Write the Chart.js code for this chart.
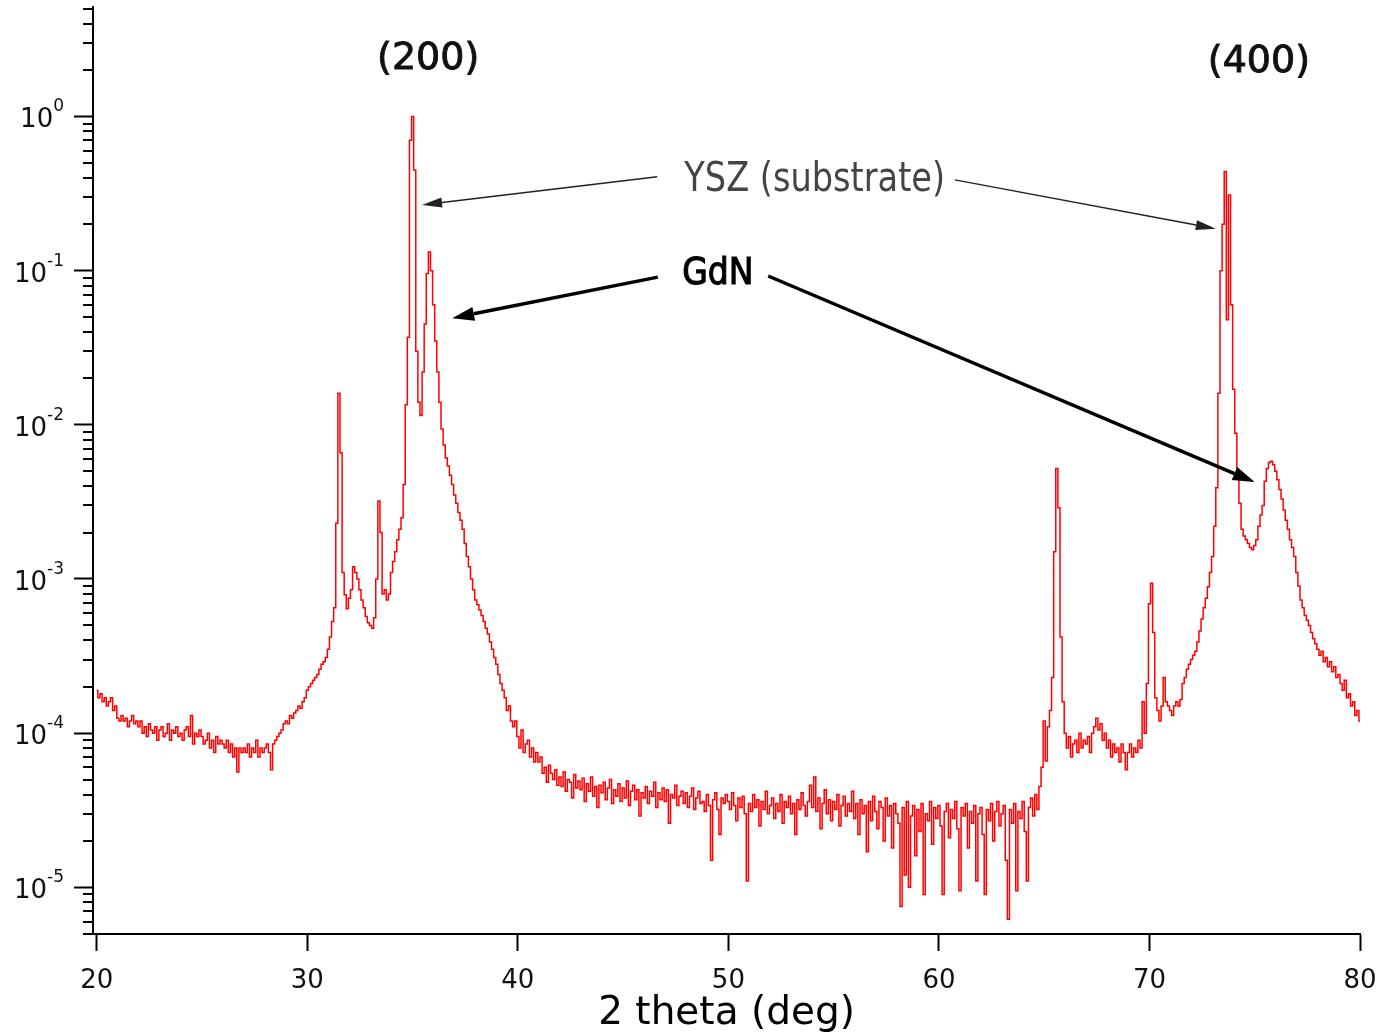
<!DOCTYPE html>
<html lang="en">

<head>
    <meta charset="UTF-8" />
    <title>XRD - GdN on YSZ</title>
    <script src="https://cdn.jsdelivr.net/npm/chart.js"></script>
    <style>
        html, body { margin: 0; padding: 0; background: #fff; }
        #wrap { width: 1383px; height: 1033px; position: relative; }
    </style>
</head>

<body>
    <div id="wrap"><canvas id="grafica"></canvas></div>

    <script>
        // scan: 20 to 80 deg, 0.1 deg step, one array per 10 deg
        const scanStart = 20.0;
        const scanStep = 0.1;

        const seg20 = [
            1.9e-4, 1.7e-4, 1.8e-4, 1.6e-4, 1.7e-4, 1.5e-4, 1.6e-4, 1.7e-4, 1.4e-4, 1.5e-4,
            1.25e-4, 1.2e-4, 1.3e-4, 1.2e-4, 1.25e-4, 1.1e-4, 1.2e-4, 1.3e-4, 1.15e-4, 1.2e-4,
            1.1e-4, 1.2e-4, 1.0e-4, 1.1e-4, 9.5e-5, 1.15e-4, 1.05e-4, 1.0e-4, 1.1e-4, 9e-5,
            1.05e-4, 1.1e-4, 9.5e-5, 1.0e-4, 1.15e-4, 9e-5, 1.05e-4, 1.0e-4, 1.1e-4, 9.5e-5,
            1.0e-4, 9e-5, 1.05e-4, 1.1e-4, 9.5e-5, 1.3e-4, 8.5e-5, 1.0e-4, 9.5e-5, 1.05e-4,
            9.5e-5, 8.5e-5, 9e-5, 1.0e-4, 8e-5, 9e-5, 7.5e-5, 9.5e-5, 8.5e-5, 9e-5,
            8.5e-5, 8e-5, 9e-5, 7.5e-5, 8.5e-5, 7e-5, 8e-5, 5.6e-5, 8e-5, 7.5e-5,
            8e-5, 7.5e-5, 8.5e-5, 7e-5, 8e-5, 7.5e-5, 9e-5, 7e-5, 8e-5, 7.5e-5,
            8e-5, 8.5e-5, 7.5e-5, 5.8e-5, 8.5e-5, 9e-5, 9.5e-5, 1.0e-4, 1.05e-4, 1.15e-4,
            1.2e-4, 1.15e-4, 1.3e-4, 1.25e-4, 1.35e-4, 1.4e-4, 1.5e-4, 1.45e-4, 1.6e-4, 1.7e-4
        ];
        const seg30 = [
            1.9e-4, 2.0e-4, 2.1e-4, 2.2e-4, 2.3e-4, 2.4e-4, 2.6e-4, 2.8e-4, 2.9e-4, 3.1e-4,
            3.5e-4, 4.2e-4, 5.3e-4, 6.5e-4, 2.3e-3, 1.6e-2, 6.6e-3, 1.1e-3, 7.9e-4, 6.4e-4,
            7.5e-4, 8.5e-4, 1.2e-3, 1.1e-3, 1.0e-3, 8.5e-4, 7.3e-4, 6.5e-4, 5.7e-4, 5.2e-4,
            5.0e-4, 4.8e-4, 5.6e-4, 1.0e-3, 3.2e-3, 2.0e-3, 8.0e-4, 8.5e-4, 7.3e-4, 8.0e-4,
            1.1e-3, 1.3e-3, 1.5e-3, 1.8e-3, 2.1e-3, 2.5e-3, 4.1e-3, 1.35e-2, 3.7e-2, 7.0e-1,
            1.0, 4.5e-1, 3.0e-2, 1.4e-2, 1.15e-2, 2.2e-2, 4.5e-2, 9.6e-2, 1.32e-1, 1.0e-1,
            6.0e-2, 3.5e-2, 2.2e-2, 1.4e-2, 9.4e-3, 7.4e-3, 6.1e-3, 5.4e-3, 4.7e-3, 4.1e-3,
            3.5e-3, 3.1e-3, 2.7e-3, 2.4e-3, 2.1e-3, 1.7e-3, 1.4e-3, 1.2e-3, 1.0e-3, 8.5e-4,
            7.3e-4, 6.8e-4, 6.3e-4, 5.8e-4, 5.3e-4, 4.8e-4, 4.4e-4, 3.9e-4, 3.5e-4, 3.1e-4,
            2.8e-4, 2.4e-4, 2.1e-4, 1.9e-4, 1.7e-4, 1.4e-4, 1.5e-4, 1.2e-4, 1.1e-4, 1.2e-4
        ];
        const seg40 = [
            9.5e-5, 8e-5, 1.05e-4, 7.5e-5, 8.5e-5, 9e-5, 7e-5, 8e-5, 6.5e-5, 7.5e-5,
            6.5e-5, 7e-5, 5.5e-5, 6e-5, 4.8e-5, 6.2e-5, 5.5e-5, 5e-5, 5.8e-5, 4.6e-5,
            5.2e-5, 4.5e-5, 5.6e-5, 4.2e-5, 5e-5, 4.8e-5, 3.8e-5, 5.4e-5, 4.4e-5, 4.9e-5,
            4.3e-5, 5.1e-5, 3.6e-5, 4.7e-5, 4.2e-5, 5.2e-5, 3.9e-5, 4.5e-5, 3.3e-5, 4.6e-5,
            4.1e-5, 4.8e-5, 3.7e-5, 4.4e-5, 5e-5, 3.5e-5, 4.3e-5, 3.9e-5, 4.7e-5, 3.6e-5,
            4.4e-5, 3.8e-5, 4.9e-5, 3.4e-5, 4.2e-5, 4.6e-5, 3.7e-5, 4.3e-5, 2.9e-5, 4.1e-5,
            3.8e-5, 4.5e-5, 3.5e-5, 4.2e-5, 3.9e-5, 4.8e-5, 3.3e-5, 4.1e-5, 3.7e-5, 4.4e-5,
            3.6e-5, 4.3e-5, 2.6e-5, 4.0e-5, 3.8e-5, 4.6e-5, 3.4e-5, 3.9e-5, 4.2e-5, 3.5e-5,
            4.1e-5, 3.3e-5, 3.9e-5, 4.4e-5, 3.2e-5, 3.8e-5, 4.2e-5, 3.5e-5, 3.6e-5, 3.1e-5,
            4.0e-5, 3.4e-5, 1.5e-5, 3.7e-5, 4.1e-5, 3.2e-5, 2.2e-5, 3.8e-5, 3.5e-5, 4.0e-5
        ];
        const seg50 = [
            3.6e-5, 3.2e-5, 4.1e-5, 3.4e-5, 2.7e-5, 3.8e-5, 3.3e-5, 3.9e-5, 3.0e-5, 1.1e-5,
            3.5e-5, 3.1e-5, 4.0e-5, 3.3e-5, 3.7e-5, 2.5e-5, 3.6e-5, 3.2e-5, 4.2e-5, 3.0e-5,
            3.4e-5, 3.8e-5, 2.8e-5, 3.5e-5, 3.1e-5, 4.0e-5, 2.6e-5, 3.6e-5, 3.3e-5, 3.9e-5,
            3.0e-5, 3.5e-5, 2.2e-5, 3.7e-5, 3.2e-5, 4.1e-5, 3.4e-5, 2.9e-5, 3.6e-5, 4.6e-5,
            3.3e-5, 5.2e-5, 3.1e-5, 3.8e-5, 2.4e-5, 3.5e-5, 4.3e-5, 3.0e-5, 3.7e-5, 2.7e-5,
            3.6e-5, 3.2e-5, 4.0e-5, 2.5e-5, 3.4e-5, 3.9e-5, 2.9e-5, 3.5e-5, 3.1e-5, 4.2e-5,
            2.8e-5, 3.5e-5, 2.2e-5, 3.7e-5, 3.0e-5, 3.4e-5, 1.7e-5, 3.6e-5, 2.7e-5, 3.9e-5,
            3.1e-5, 2.4e-5, 3.6e-5, 3.3e-5, 2.0e-5, 3.8e-5, 2.9e-5, 3.4e-5, 1.8e-5, 3.5e-5,
            3.0e-5, 2.6e-5, 7.5e-6, 3.3e-5, 1.2e-5, 3.6e-5, 1.0e-5, 2.9e-5, 3.4e-5, 1.6e-5,
            3.2e-5, 2.3e-5, 3.5e-5, 9e-6, 3.0e-5, 2.7e-5, 3.6e-5, 1.9e-5, 3.3e-5, 2.8e-5
        ];
        const seg60 = [
            3.4e-5, 2.5e-5, 9e-6, 3.1e-5, 3.5e-5, 2.1e-5, 3.2e-5, 2.8e-5, 3.6e-5, 2.4e-5,
            9.5e-6, 3.3e-5, 2.9e-5, 3.5e-5, 1.8e-5, 3.1e-5, 2.6e-5, 3.4e-5, 1.1e-5, 3.0e-5,
            3.3e-5, 2.2e-5, 9e-6, 3.2e-5, 2.7e-5, 3.5e-5, 2.0e-5, 3.1e-5, 3.6e-5, 2.5e-5,
            3.0e-5, 3.4e-5, 1.5e-5, 6.2e-6, 3.2e-5, 2.6e-5, 3.5e-5, 9.5e-6, 3.1e-5, 2.8e-5,
            3.6e-5, 2.3e-5, 1.1e-5, 3.3e-5, 3.8e-5, 2.9e-5, 4.0e-5, 3.2e-5, 4.5e-5, 6e-5,
            1.2e-4, 6.6e-5, 1.1e-4, 1.4e-4, 2.3e-4, 1.5e-3, 5.2e-3, 2.9e-3, 4.2e-4, 1.6e-4,
            1.0e-4, 8e-5, 9.5e-5, 7e-5, 8.5e-5, 9e-5, 7.5e-5, 1.0e-4, 8e-5, 9e-5,
            8.5e-5, 9.5e-5, 7.5e-5, 1.0e-4, 1.1e-4, 1.25e-4, 1.05e-4, 1.15e-4, 9e-5, 1.0e-4,
            8e-5, 9e-5, 7e-5, 8.5e-5, 7.5e-5, 8e-5, 6.5e-5, 8.5e-5, 7.5e-5, 5.8e-5,
            7.5e-5, 8.5e-5, 7e-5, 8e-5, 7.5e-5, 9e-5, 8e-5, 1.6e-4, 1.0e-4, 2.1e-4
        ];
        const seg70 = [
            6.9e-4, 9.4e-4, 4.5e-4, 1.7e-4, 1.4e-4, 1.2e-4, 1.5e-4, 2.3e-4, 1.6e-4, 1.5e-4,
            1.4e-4, 1.3e-4, 1.5e-4, 1.6e-4, 1.5e-4, 1.65e-4, 2.1e-4, 2.3e-4, 2.6e-4, 2.8e-4,
            3.0e-4, 3.2e-4, 3.4e-4, 3.9e-4, 4.6e-4, 5.5e-4, 6.5e-4, 7.5e-4, 8.9e-4, 1.1e-3,
            1.4e-3, 2.2e-3, 3.9e-3, 1.6e-2, 1.0e-1, 2.0e-1, 4.4e-1, 4.8e-2, 3.1e-1, 6.0e-2,
            1.7e-2, 8.8e-3, 4.8e-3, 3.1e-3, 2.1e-3, 1.9e-3, 1.8e-3, 1.7e-3, 1.6e-3, 1.55e-3,
            1.65e-3, 1.8e-3, 2.2e-3, 2.6e-3, 3.0e-3, 4.3e-3, 5.2e-3, 5.7e-3, 5.8e-3, 5.5e-3,
            5.0e-3, 4.4e-3, 3.8e-3, 3.3e-3, 2.8e-3, 2.4e-3, 2.1e-3, 1.8e-3, 1.6e-3, 1.4e-3,
            1.1e-3, 9e-4, 7.3e-4, 6.5e-4, 5.8e-4, 5.4e-4, 5.0e-4, 4.5e-4, 4.1e-4, 3.8e-4,
            3.5e-4, 3.2e-4, 3.4e-4, 2.9e-4, 3.1e-4, 2.7e-4, 2.9e-4, 2.5e-4, 2.7e-4, 2.3e-4,
            2.4e-4, 2.1e-4, 1.9e-4, 2.2e-4, 1.7e-4, 1.8e-4, 1.5e-4, 1.6e-4, 1.3e-4, 1.4e-4,
            1.2e-4
        ];

        const xTicks = [20, 30, 40, 50, 60, 70, 80];
        const yDecades = [1e-5, 1e-4, 1e-3, 1e-2, 1e-1, 1];
        const yExponents = ['-5', '-4', '-3', '-2', '-1', '0'];

        // annotations in data coordinates (deg, intensity)
        const peakLabels = [
            { text: '(200)', x: 35.74, y: 2.37 },
            { text: '(400)', x: 75.2, y: 2.26 }
        ];
        const yszLabel = { text: 'YSZ (substrate)', x: 54.1, y: 0.382 };
        const gdnLabel = { text: 'GdN', x: 49.5, y: 0.0952 };
        const yszArrows = [[46.62, 0.406, 35.45, 0.267], [60.76, 0.388, 73.15, 0.187]];
        const gdnArrows = [[46.65, 0.0908, 36.88, 0.0492], [51.89, 0.0923, 75.0, 0.00425]];

        const FONT = "'DejaVu Sans', sans-serif";

        const intensity = [].concat(seg20, seg30, seg40, seg50, seg60, seg70);
        const points = intensity.map((v, i) => ({ x: +(scanStart + i * scanStep).toFixed(2), y: v }));

        function flecha(ctx, a, b, ancho, largo, medio, color) {
            const ang = Math.atan2(b.y - a.y, b.x - a.x);
            const bx = b.x - largo * Math.cos(ang);
            const by = b.y - largo * Math.sin(ang);
            ctx.strokeStyle = color;
            ctx.fillStyle = color;
            ctx.lineWidth = ancho;
            ctx.beginPath();
            ctx.moveTo(a.x, a.y);
            ctx.lineTo(bx, by);
            ctx.stroke();
            ctx.beginPath();
            ctx.moveTo(b.x, b.y);
            ctx.lineTo(bx - medio * Math.sin(ang), by + medio * Math.cos(ang));
            ctx.lineTo(bx + medio * Math.sin(ang), by - medio * Math.cos(ang));
            ctx.closePath();
            ctx.fill();
        }

        function texto(ctx, str, x, y, font, color, sx, trazo) {
            ctx.save();
            ctx.translate(x, y);
            ctx.scale(sx, 1);
            ctx.font = font;
            ctx.fillStyle = color;
            ctx.textAlign = 'center';
            ctx.textBaseline = 'middle';
            ctx.fillText(str, 0, 0);
            if (trazo) {
                ctx.strokeStyle = color;
                ctx.lineWidth = trazo;
                ctx.strokeText(str, 0, 0);
            }
            ctx.restore();
        }

        const decoraciones = {
            id: 'decoraciones',
            afterDraw(chart) {
                const ctx = chart.ctx;
                const xs = chart.scales.x;
                const ys = chart.scales.y;
                const left = chart.chartArea.left;
                ctx.save();

                // minor ticks of the log axis
                ctx.strokeStyle = '#000';
                ctx.lineWidth = 2;
                for (let e = -6; e <= 0; e++) {
                    for (let m = 2; m <= 9; m++) {
                        const v = m * Math.pow(10, e);
                        if (v < ys.min || v > ys.max) continue;
                        const py = Math.round(ys.getPixelForValue(v));
                        ctx.beginPath();
                        ctx.moveTo(left - 10, py);
                        ctx.lineTo(left, py);
                        ctx.stroke();
                    }
                }

                // y labels 10^n
                ctx.fillStyle = '#111';
                ctx.textBaseline = 'alphabetic';
                ctx.textAlign = 'left';
                yDecades.forEach((v, i) => {
                    const py = ys.getPixelForValue(v);
                    ctx.font = '17px ' + FONT;
                    const wExp = ctx.measureText(yExponents[i]).width;
                    ctx.font = '26px ' + FONT;
                    const wBase = ctx.measureText('10').width;
                    const x0 = 64 - wExp - wBase;
                    ctx.fillText('10', x0, py + 11);
                    ctx.font = '17px ' + FONT;
                    ctx.fillText(yExponents[i], x0 + wBase, py - 5);
                });

                // arrows
                yszArrows.forEach(a => {
                    flecha(ctx,
                        { x: xs.getPixelForValue(a[0]), y: ys.getPixelForValue(a[1]) },
                        { x: xs.getPixelForValue(a[2]), y: ys.getPixelForValue(a[3]) },
                        1.5, 20, 5, '#222');
                });
                gdnArrows.forEach(a => {
                    flecha(ctx,
                        { x: xs.getPixelForValue(a[0]), y: ys.getPixelForValue(a[1]) },
                        { x: xs.getPixelForValue(a[2]), y: ys.getPixelForValue(a[3]) },
                        3.5, 22, 7, '#000');
                });

                // texts
                peakLabels.forEach(p => {
                    texto(ctx, p.text, xs.getPixelForValue(p.x), ys.getPixelForValue(p.y), '38px ' + FONT, '#111', 1, 0.9);
                });
                texto(ctx, yszLabel.text, xs.getPixelForValue(yszLabel.x), ys.getPixelForValue(yszLabel.y), '40px ' + FONT, '#444', 0.84, 0);
                texto(ctx, gdnLabel.text, xs.getPixelForValue(gdnLabel.x), ys.getPixelForValue(gdnLabel.y), '38px ' + FONT, '#000', 0.87, 1.2);

                ctx.restore();
            }
        };

        const ctx = document.getElementById('grafica').getContext('2d');
        const chart = new Chart(ctx, {
            type: 'line',
            data: {
                datasets: [{
                    data: points,
                    borderColor: '#ff0000',
                    borderWidth: 1.5,
                    pointRadius: 0,
                    stepped: 'middle',
                    fill: false
                }]
            },
            options: {
                responsive: true,
                maintainAspectRatio: false,
                animation: false,
                parsing: false,
                events: [],
                layout: { padding: { top: 7, right: 23, left: 0, bottom: 0 } },
                plugins: {
                    legend: { display: false },
                    tooltip: { enabled: false }
                },
                scales: {
                    x: {
                        type: 'linear',
                        min: 19.82,
                        max: 80,
                        afterBuildTicks: s => { s.ticks = xTicks.map(v => ({ value: v })); },
                        afterFit: s => { s.height = 99; s.paddingLeft = 0; s.paddingRight = 0; },
                        grid: { drawOnChartArea: false, drawTicks: true, tickLength: 17, tickWidth: 2, tickColor: '#000' },
                        border: { display: true, color: '#000', width: 2 },
                        ticks: { color: '#111', font: { family: FONT, size: 26 }, padding: 15, maxRotation: 0, autoSkip: false },
                        title: { display: true, text: '2 theta (deg)', color: '#000', font: { family: FONT, size: 39, lineHeight: 1 }, padding: 0 }
                    },
                    y: {
                        type: 'logarithmic',
                        min: 4.98e-6,
                        max: 5.13,
                        afterBuildTicks: s => { s.ticks = yDecades.map(v => ({ value: v })); },
                        afterFit: s => { s.width = 93; s.paddingTop = 0; s.paddingBottom = 0; },
                        grid: { drawOnChartArea: false, drawTicks: true, tickLength: 19, tickWidth: 2, tickColor: '#000' },
                        border: { display: true, color: '#000', width: 2 },
                        ticks: { display: false }
                    }
                }
            },
            plugins: [decoraciones]
        });
    </script>
</body>

</html>
